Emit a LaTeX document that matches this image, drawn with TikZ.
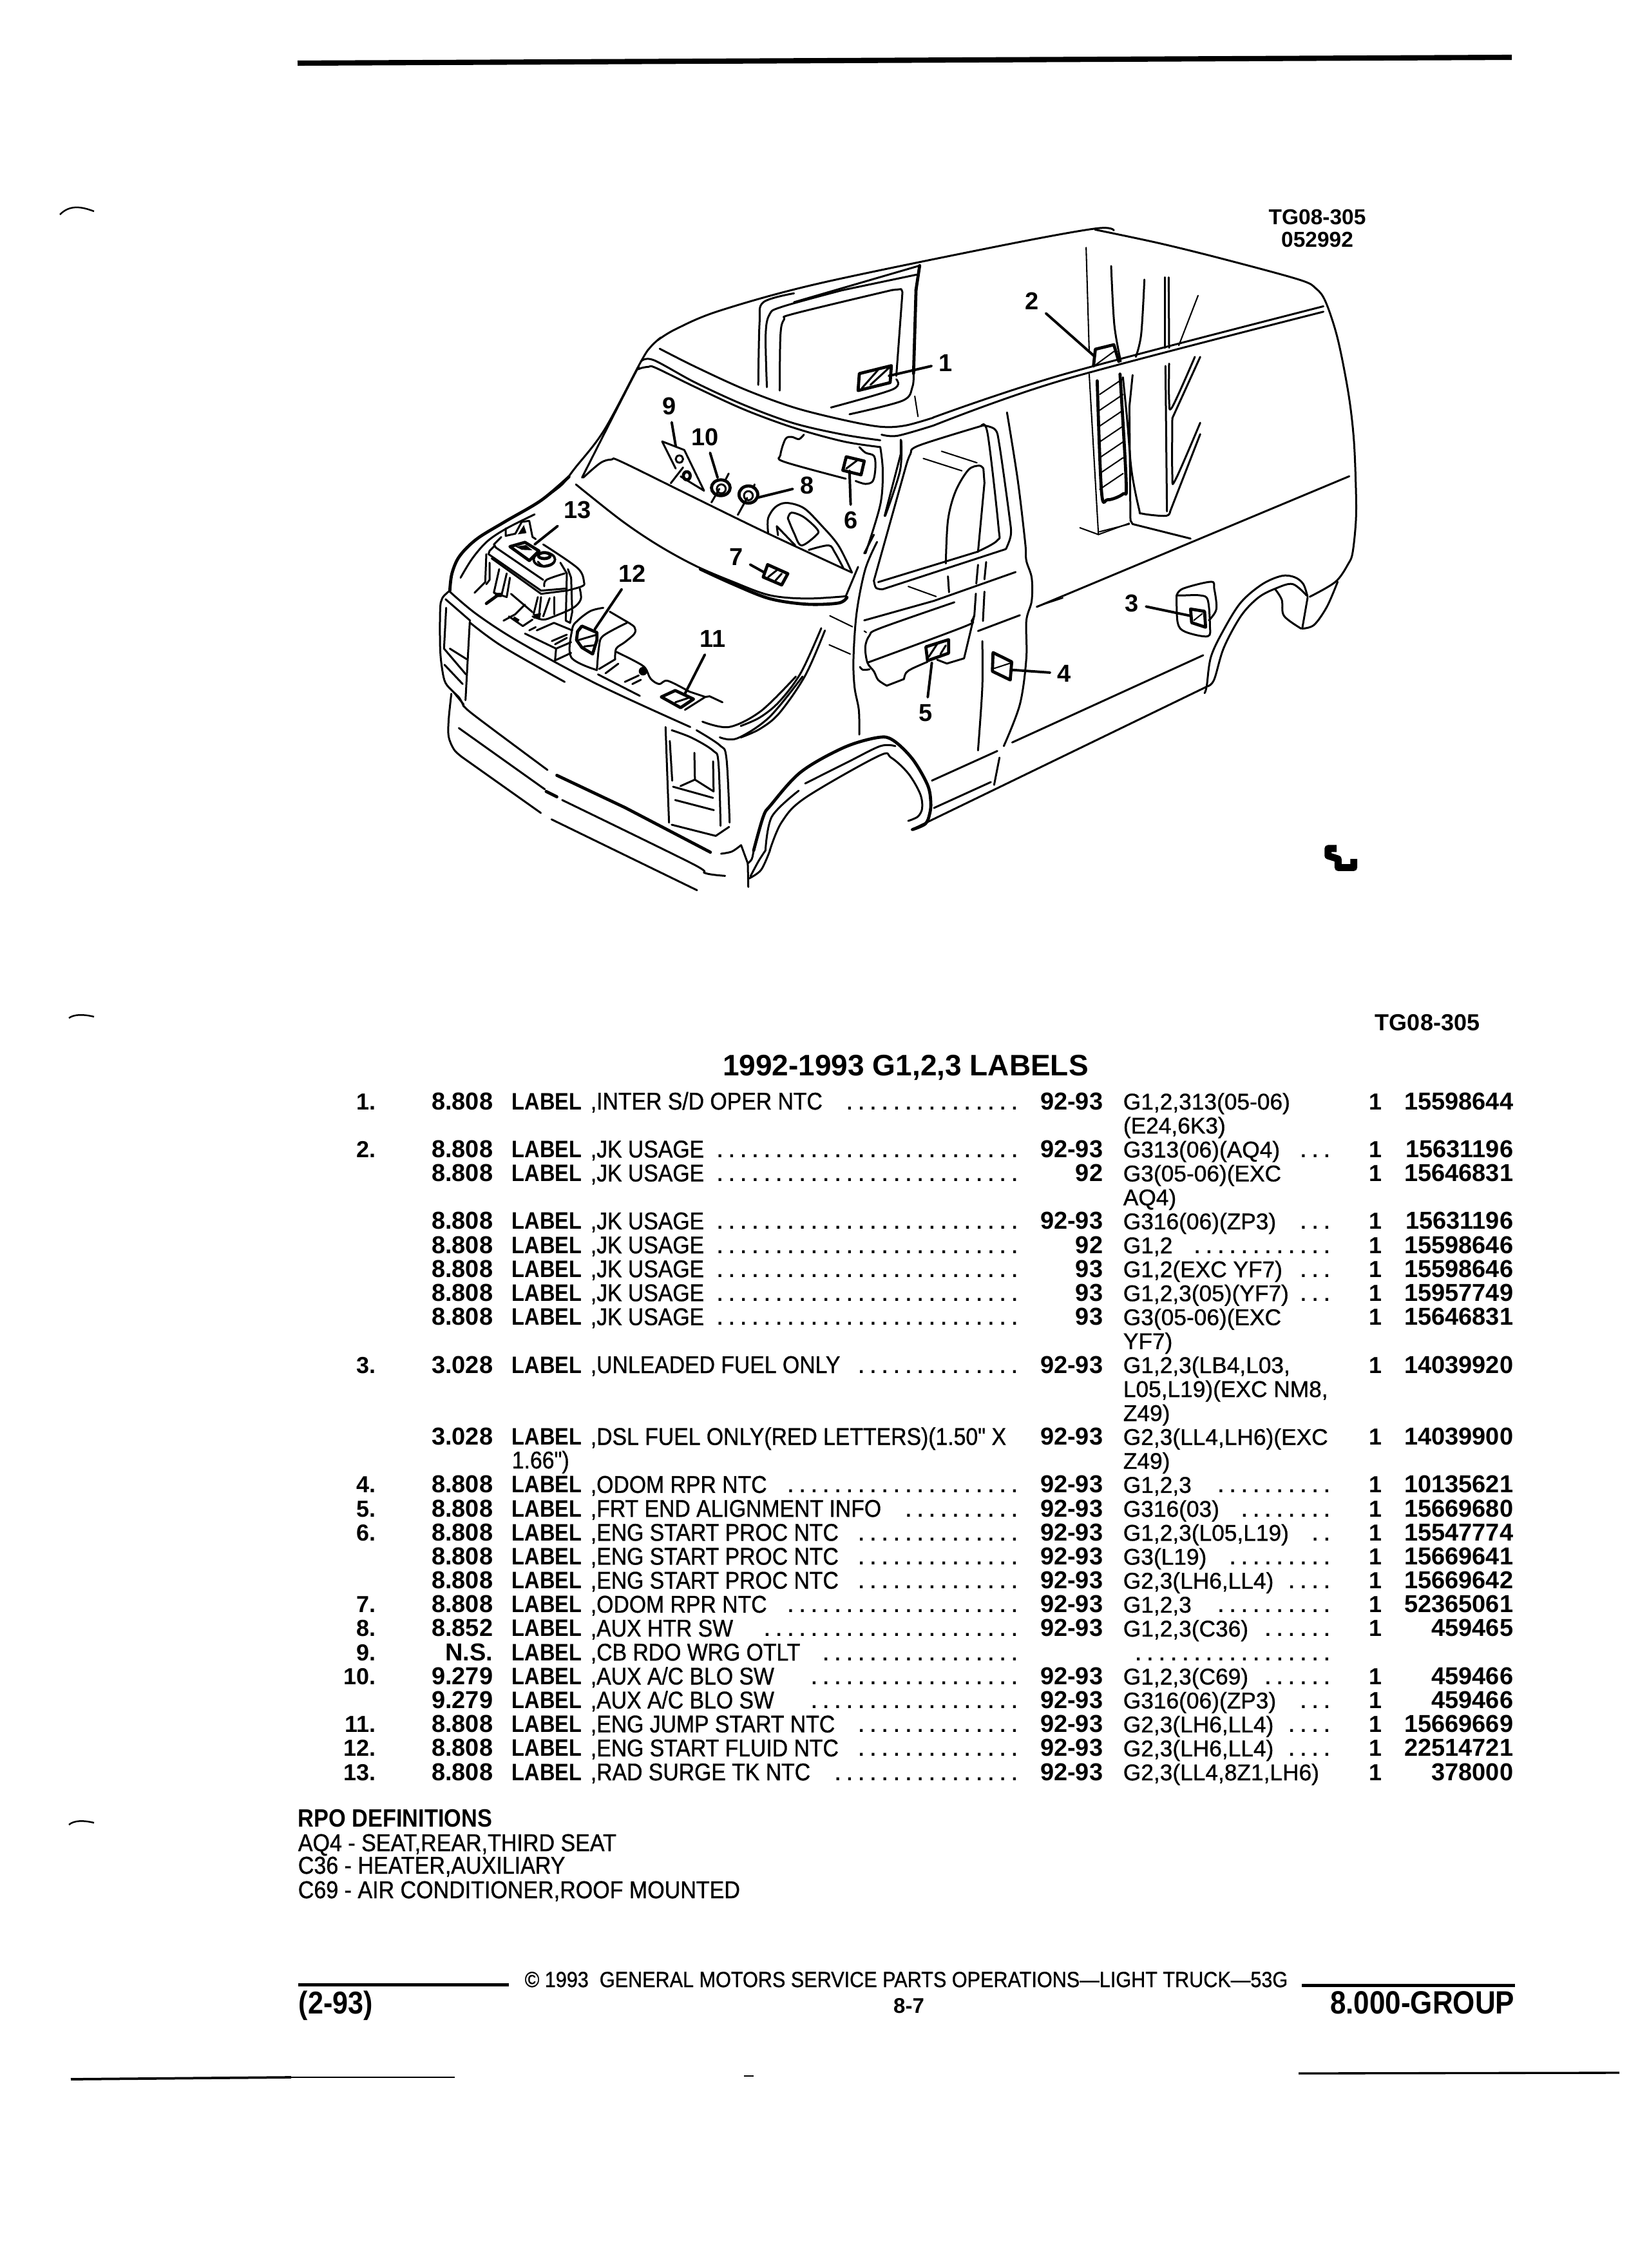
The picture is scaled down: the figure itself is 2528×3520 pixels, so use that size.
\documentclass[tikz,border=0pt]{standalone}
\usepackage{fontspec}
\setmainfont{Liberation Sans}
\newfontfamily\regf{Liberation Sans}[FakeBold=0.9]
\newfontfamily\regn{Liberation Sans}[FakeBold=0.9,FakeStretch=0.9]
\newfontfamily\labf{Liberation Sans}[BoldFeatures={FakeStretch=0.88}]
\newcommand\px[1]{\pgfmathsetmacro\fsz{#1*0.24}\fontsize{\fsz}{\fsz}\selectfont}
\newcommand\rgt[1]{\regf\px{#1}}
\newcommand\rgn[1]{\regn\px{#1}}
\newcommand\bld[1]{\bfseries\px{#1}}
\newcommand\bln[1]{\labf\bfseries\px{#1}}
\newcommand\dotrun[1]{\hbox{\cleaders\hbox to 4.39pt{\hss.\hss}\hskip\dimexpr4.39pt*#1\relax}}
\newcount\rowi
\rowi=0
\newcommand\nonempty[2]{\if\relax\detokenize{#1}\relax\else #2\fi}
\newcommand\trow[9]{%
 \pgfmathsetmacro\ry{1722+37.18*\the\rowi}%
 \nonempty{#1}{\node[itemno] (a\the\rowi) at (584,\ry) {#1};}%
 \nonempty{#2}{\node[codeno] (b\the\rowi) at (766,\ry) {#2};}%
 \nonempty{#2}{\node[lab] (c\the\rowi) at (794,\ry) {LABEL};}%
 \nonempty{#3}{\node[desc] (d\the\rowi) at (916,\ry) {#3};}%
 \nonempty{#4}{\node[dotsr] (e\the\rowi) at (1585,\ry) {\dotrun{#4}};}%
 \nonempty{#5}{\node[codeno] (f\the\rowi) at (1713,\ry) {#5};}%
 \nonempty{#6}{\node[gcol] (g\the\rowi) at (1743,\ry) {#6};}%
 \nonempty{#7}{\node[dotsr] (h\the\rowi) at (2070,\ry) {\dotrun{#7}};}%
 \nonempty{#8}{\node[qty] (i\the\rowi) at (2135,\ry) {#8};}%
 \nonempty{#9}{\node[codeno] (j\the\rowi) at (2350,\ry) {#9};}%
 \global\advance\rowi by 1\relax}
\newcommand\sm[2][vl]{\draw[#1] plot[smooth,tension=0.55] coordinates {#2};}
\tikzset{
 vl/.style={line width=0.72pt,line cap=round,line join=round},
 vt/.style={line width=0.5pt,line cap=round,line join=round},
 vb/.style={line width=1.15pt,line cap=round,line join=round},
 leader/.style={line width=0.95pt,line cap=round},
 num/.style={font=\bld{38},inner sep=2.5pt},
 itemno/.style={anchor=base east,inner sep=0pt,font=\bld{36}},
 codeno/.style={anchor=base east,inner sep=0pt,font=\bld{38}},
 lab/.style={anchor=base west,inner sep=0pt,font=\bln{37}},
 desc/.style={anchor=base west,inner sep=0pt,font=\rgn{37.5}},
 gcol/.style={anchor=base west,inner sep=0pt,font=\rgt{35.3}},
 dotsr/.style={anchor=base east,inner sep=0pt,font=\bld{30}},
 qty/.style={anchor=base,inner sep=0pt,font=\bld{36}},
 plainrow/.style={anchor=base west,inner sep=0pt,font=\rgn{37.8}},
 pagerule/.style={line width=1.9pt},
 scan/.style={line width=0.6pt},
 zone1/.style={shift={(600,300)},x=0.22967pt,y=-0.16836pt},
 zone4/.style={shift={(640,740)},x=0.08pt,y=-0.08pt},
 zone5/.style={shift={(1700,300)},x=0.08pt,y=-0.16925pt},
 zoneA/.style={shift={(680,1050)},x=0.0995pt,y=-0.08pt},
 zoneB/.style={shift={(1150,620)},x=0.08pt,y=-0.10714pt},
 zoneC/.style={shift={(850,450)},x=0.09185pt,y=-0.08421pt}
}
\begin{document}
\begin{tikzpicture}[x=0.24pt,y=-0.24pt]
\useasboundingbox (0,0) rectangle (2528,3520);
\fill[white] (0,0) rectangle (2528,3520);
% page rules and scan marks
\draw[pagerule,line width=1.95pt] (462,98) -- (2347,89);
\draw[scan] (93,333) .. controls (108,318) and (125,320) .. (146,328);
\draw[scan] (107,1580) .. controls (115,1574) and (130,1574) .. (146,1578);
\draw[scan] (107,2832) .. controls (115,2825) and (130,2825) .. (146,2829);
\draw[line width=0.9pt] (110,3227) -- (452,3224);
\draw[line width=0.35pt] (452,3224) -- (706,3224);
\draw[line width=0.5pt] (1155,3222) -- (1170,3222);
\draw[line width=0.8pt] (2016,3218) -- (2514,3217);
% ---------- zone C: windshield and dash
\begin{scope}[zoneC]
 \sm{(460,210)(420,250)(380,315)(230,620)(110,790)(60,860)(0,910)}
 \sm{(140,830)(350,380)(370,350)(410,340)(440,345)(600,430)(800,530)(1000,610)(1200,670)(1350,695)}
 \sm{(1350,695)(1360,800)(1350,950)(1290,1165)}
 \sm{(380,315)(430,310)(600,410)(800,510)(1000,590)(1200,640)(1350,665)}
 \sm{(455,260)(600,340)(800,440)(1000,520)(1200,575)(1350,605)(1450,600)(1565,565)}
 \sm{(1355,640)(1420,645)(1565,600)}
 % visor
 \sm{(1040,640)(1020,660)(990,650)(965,660)(945,730)(960,760)(1210,835)}
 \sm{(1265,695)(1290,720)(1325,735)(1330,790)(1320,845)(1290,858)(1250,845)}
 % dash
 \sm{(145,830)(215,765)(260,750)(300,760)(580,910)(890,1075)(1235,1250)}
 \sm{(115,860)(300,1020)(450,1130)(600,1220)(750,1290)(900,1350)(1050,1365)(1210,1355)}
 \draw[vl] (1210,1355) -- (1260,1225);
 \sm[vb]{(620,1235)(750,1300)(900,1365)(1050,1390)(1180,1385)(1215,1360)}
 \sm{(1435,665)(1430,800)(1370,1000)}
 % rear side window
 \sm{(855,420)(860,150)(875,55)(1000,15)}
 \sm{(890,430)(885,200)(900,110)(950,75)(1200,0)}
 \sm{(942,445)(945,200)(960,130)(1000,105)(1400,0)}
 \draw[vl] (1440,10) -- (1415,380);
 \draw[vb] (1495,0) -- (1485,370);
 \sm{(1485,375)(1480,430)(1440,490)(1225,550)}
 \sm{(1415,395)(1400,440)(1150,520)}
 \draw[vt] (1490,470) -- (1503,560);
 % steering wheel
 \sm{(895,1075)(895,1010)(925,960)(970,942)(1040,965)(1110,1040)(1180,1130)(1235,1250)}
 \draw[vl] (935,1085) -- (930,1045) -- (1005,1130);
 \sm{(975,1010)(990,985)(1040,1005)(1095,1060)(1090,1085)(1030,1130)(1000,1075)(975,1010)}
 \sm{(1060,1150)(1140,1130)(1165,1160)(1200,1230)}
 % sticker 1
 \draw[vb] (1265,370) -- (1395,335) -- (1390,410) -- (1260,445) -- cycle;
 \draw[vl] (1275,435) -- (1340,355);
 \draw[vl] (1310,420) -- (1385,345);
 \coordinate (s1) at (1385,380);
 % outlet 9
 \draw[vl] (520,790) -- (465,670) -- (555,708) -- (635,888) -- (540,825);
 \draw[vl] (535,748) ellipse [x radius=15,y radius=16];
 \draw[vb] (565,822) ellipse [x radius=14,y radius=18];
 \draw[vl] (550,785) -- (500,855);
 \coordinate (s9) at (520,690);
 \node[num] (n9) at (493,515) {9};
 \draw[leader] (n9) -- (s9);
 % switch 10
 \draw[vb] (703,875) ellipse [x radius=38,y radius=35];
 \draw[vl] (705,880) ellipse [x radius=18,y radius=20];
 \draw[vl] (697,880) -- (665,940);
 \draw[vl] (735,812) -- (722,840);
 \coordinate (s10) at (690,830);
 \node[num] (n10) at (640,650) {10};
 \draw[leader] (n10) -- (s10);
 % switch 8
 \draw[vb] (815,905) ellipse [x radius=38,y radius=38];
 \draw[vl] (815,910) ellipse [x radius=18,y radius=20];
 \draw[vl] (810,920) -- (772,995);
 \draw[vl] (840,860) -- (835,878);
 \coordinate (s8) at (855,918);
 \node[num] (n8) at (1052,865) {8};
 \draw[leader] (n8) -- (s8);
 % sticker 6
 \draw[vb] (1212,738) -- (1285,757) -- (1272,818) -- (1198,798) -- cycle;
 \draw[vl] (1212,790) -- (1255,755);
 \coordinate (s6) at (1225,800);
 \node[num] (n6) at (1232,1020) {6};
 \draw[leader] (n6) -- (s6);
 % sticker 7
 \draw[vb] (893,1215) -- (975,1255) -- (950,1305) -- (875,1270) -- cycle;
 \draw[vl] (895,1270) -- (930,1240);
 \draw[vl] (925,1285) -- (950,1255);
 \coordinate (s7) at (880,1250);
 \node[num] (n7) at (765,1180) {7};
 \draw[leader] (n7) -- (s7);
\end{scope}
% ---------- zone B: door
\begin{scope}[zoneB]
 \sm{(635,495)(580,590)(540,740)(525,900)(530,1000)(550,1080)(552,1165)}
 \draw[vl] (670,405) -- (745,190) -- (745,140);
 \sm{(1240,45)(1290,280)(1325,500)(1330,560)(1355,620)(1355,700)(1330,770)(1330,900)(1300,1060)(1225,1205)}
 \draw[vl] (1205,1245) -- (1180,1340);
 \draw[vl] (575,535) -- (620,470);
 \sm{(1130,90)(1185,105)(1205,160)(1250,400)(1258,470)(1235,520)}
 \draw[vl] (1235,520) -- (660,660);
 \sm{(660,660)(630,655)(620,630)}
 \draw[vl] (620,630) -- (770,230);
 \sm{(770,230)(790,190)(830,160)(1130,90)}
 \sm{(1120,92)(1150,120)(1200,440)(1195,490)(1100,530)}
 \draw[vl] (1100,530) -- (640,635);
 % seat
 \sm{(1130,240)(1110,230)(1060,245)(1000,320)(965,420)(955,570)}
 \draw[vl] (1130,240) -- (1135,290) -- (1105,530);
 \draw[vt] (935,180) -- (1100,220);
 \draw[vt] (850,205) -- (1030,248);
 \draw[vl] (965,615) -- (970,670);
 \draw[vl] (1105,575) -- (1097,640);
 \draw[vl] (1143,565) -- (1135,625);
 \draw[vt] (780,650) -- (910,685);
 \draw[vl] (1095,675) -- (1088,750) -- (1040,900) -- (960,918) -- (915,905);
 \draw[vl] (1135,668) -- (1128,770);
 % belt and arm rest
 \draw[vl] (575,768) -- (900,700) -- (1280,600);
 \sm{(995,705)(650,795)(600,820)(580,860)(590,915)(620,945)(640,975)(680,995)}
 \draw[vl] (680,995) -- (760,972);
 \sm{(760,972)(770,950)(800,935)(870,912)}
 \sm{(590,915)(1040,790)(1075,770)(1088,750)}
 \sm{(555,930)(570,940)(600,938)}
 \draw[vt] (575,805) -- (585,810);
 \draw[vt] (415,752) -- (520,790);
 \draw[vt] (412,853) -- (510,885);
 \draw[vl] (1105,805) -- (1300,750);
 \draw[vt] (1378,720) -- (1500,690);
 \sm{(1125,840)(1125,1000)(1105,1220)}
 % upper fender
 \sm{(375,795)(280,950)(180,1050)(90,1105)(0,1135)}
 \sm{(392,803)(300,960)(180,1090)(90,1145)(0,1175)}
 % arch
 \sm[vb]{(60,1568)(105,1450)(140,1410)(280,1295)(480,1210)(640,1175)(710,1185)(800,1250)(870,1340)(885,1400)(880,1440)(860,1475)(800,1495)}
 \sm{(115,1568)(145,1450)(270,1360)}
 \sm{(300,1335)(500,1260)(650,1205)(720,1205)}
 \sm{(135,1568)(190,1470)(300,1385)(640,1240)(700,1245)(780,1300)(835,1370)(845,1420)(825,1450)(780,1465)}
 \draw[vl] (890,1325) -- (1195,1222);
 \draw[vl] (900,1420) -- (1165,1330);
 % sticker 5
 \draw[vb] (862,860) -- (968,835) -- (968,882) -- (870,908) -- cycle;
 \draw[vl] (875,895) -- (915,850);
 \draw[vl] (930,885) -- (955,855);
 \coordinate (s5) at (890,915);
 \node[num] (n5) at (862,1090) {5};
 \draw[leader] (n5) -- (s5);
 % sticker 4
 \draw[vb] (1175,880) -- (1262,912) -- (1255,975) -- (1172,945) -- cycle;
 \draw[vt] (1180,935) -- (1262,915);
 \coordinate (s4) at (1262,940);
 \node[num] (n4) at (1506,953) {4};
 \draw[leader] (n4) -- (s4);
\end{scope}
% ---------- zone A: bumper and lamp
\begin{scope}[zoneA]
 \sm{(50,80)(40,200)(40,280)(60,340)(90,375)}
 \draw[vl] (90,375) -- (385,635);
 \draw[vl] (425,665) -- (970,995);
 \draw[vl] (78,240) -- (400,525);
 \draw[vb] (405,535) -- (445,560);
 \sm{(465,575)(950,870)(1000,915)(1075,928)}
 \sm{(96,130)(130,175)(410,435)}
 \draw[vb] (445,460) -- (700,610) -- (1020,818);
 \draw[vl] (60,75) -- (96,130);
 % lamp
 \draw[vl] (852,235) -- (865,680);
 \draw[vl] (868,300) -- (877,485);
 \sm{(875,250)(950,285)(1030,345)(1050,400)(1058,695)}
 \sm{(968,250)(1055,320)(1080,380)(1092,680)}
 \draw[vl] (960,355) -- (962,480) -- (908,510);
 \draw[vl] (962,480) -- (1032,535) -- (1030,395);
 \draw[vl] (880,513) -- (1030,565);
 \draw[vl] (888,575) -- (1033,622);
 \draw[vl] (875,690) -- (1040,742) -- (1090,700);
 % fender and hood corner
 \sm{(990,210)(1090,235)(1210,160)(1340,0)}
 \sm{(1055,283)(1120,288)(1240,190)(1365,0)}
 \sm{(1060,825)(1100,815)(1135,785)}
 \draw[vl] (1135,785) -- (1160,870) -- (1162,980);
 \sm{(1182,810)(1175,850)(1160,870)}
 \sm{(1226,810)(1200,860)(1170,930)}
 \sm{(1243,810)(1210,900)(1165,940)}
\end{scope}
% ---------- van, region 1
\begin{scope}[zone1]
 \sm{(440,325)(470,300)(540,260)(700,200)(1000,115)(1150,78)(1180,82)}
 \sm{(887,496)(1100,400)(1520,250)}
 \sm{(887,514)(1100,412)(1520,262)}
 \draw[vl] (852,1408) -- (1330,1092);
 \draw[vl] (1015,1215) -- (1325,1022);
 \draw[vl] (1055,915) -- (1562,626);
 % top of the rear side window
 \draw[vl] (661,241) -- (865,160);
 \draw[vl] (741,214) -- (860,180);
 \draw[vl] (821,214) -- (835,212) -- (837,218);
 \draw[vb] (859,214) -- (865,160);
 % pillar
 \draw[vt] (1135,120) -- (1140,350);
 \draw[vt] (1140,400) -- (1155,755);
 \draw[vt] (1125,740) -- (1155,755) -- (1205,730);
 \node[num] (n1) at (907,375) {1};
 \draw[leader] (n1) -- (s1);
 % sticker 2
 \draw[vb] (1147,382) -- (1150,345) -- (1180,335) -- (1188,372);
 \sm[vb]{(1153,415)(1160,660)(1170,678)(1195,665)(1200,640)(1190,400)}
 \foreach \v in {440,475,510,545,580,615,650}{\draw[vt] (1157,\v+5) -- (1195,\v-30);}
 \draw[vt] (1150,380) -- (1180,350);
 \coordinate (s2) at (1148,360);
 \node[num] (n2) at (1047,238) {2};
 \draw[leader] (n2) -- (s2);
\end{scope}
% ---------- engine bay
\begin{scope}[zone4]
 \sm[vb]{(730,0)(600,110)(430,210)(300,290)(220,370)(185,450)(175,530)}
 \sm{(175,530)(140,565)(130,620)(130,800)(140,900)(155,960)(190,1000)(220,1030)(240,1070)}
 \sm{(175,535)(300,640)(500,770)(860,965)(1295,1165)}
 \sm{(270,680)(420,790)(710,955)}
 \draw[vl] (158,610) -- (148,800) -- (250,920);
 \draw[vl] (175,800) -- (255,850);
 \draw[vl] (150,875) -- (235,965);
 \draw[vl] (268,675) -- (248,1040);
 \draw[vl] (155,570) -- (270,670);
 \sm{(225,470)(280,380)(350,300)(440,240)(570,175)}
 % reservoir
 \draw[vl] (415,280) -- (380,315) -- (390,330) -- (610,480);
 \draw[vl] (385,320) -- (360,345) -- (355,360);
 \draw[vl] (355,360) -- (600,530) -- (720,520);
 \draw[vl] (370,380) -- (600,545) -- (720,530);
 \sm{(610,315)(770,425)(800,490)(790,510)(720,530)}
 \sm{(615,510)(625,480)(710,450)}
 \draw[vl] (690,400) -- (720,450) -- (715,670) -- (735,680) -- (745,630) -- (740,470) -- (725,430);
 \sm{(780,520)(785,570)(750,610)(660,650)(610,665)(560,650)}
 \draw[vl] (345,360) -- (340,490) -- (290,540);
 \draw[vl] (360,400) -- (360,480) -- (345,500);
 \draw[vl] (405,430) -- (380,540) -- (440,560) -- (455,470);
 \draw[vl] (440,450) -- (415,555);
 \draw[vb] (345,590) -- (400,550);
 \draw[vl] (460,545) -- (560,630);
 \draw[vl] (585,560) -- (565,640);
 \draw[vl] (600,560) -- (590,650);
 \draw[vl] (640,565) -- (610,650);
 \draw[vl] (660,560) -- (660,640);
 \draw[vl] (425,670) -- (480,640) -- (525,595);
 \draw[vl] (450,650) -- (515,695) -- (560,665);
 \fill (565,640) -- (600,635) -- (595,660) -- (565,660) -- cycle;
 \fill (385,540) -- (420,540) -- (415,560) -- (385,560) -- cycle;
 \fill (475,650) -- (500,665) -- (490,680) -- (465,665) -- cycle;
 \draw[vl] (435,240) -- (435,275) -- (480,265) -- (510,210) -- (545,205) -- (560,280) -- (575,290);
 \fill (492,268) -- (520,225) -- (532,262) -- cycle;
 % sticker 13
 \draw[vb] (455,325) -- (525,305) -- (590,345) -- (545,390) -- cycle;
 \fill (480,325) -- (530,318) -- (560,342) -- (510,340) -- cycle;
 \fill[white,draw=black,line width=0.9pt] (615,385) ellipse [x radius=50,y radius=32];
 \draw[vb] (615,367) ellipse [x radius=28,y radius=14];
 \sm{(585,395)(610,415)(650,405)(665,390)}
 \coordinate (s13) at (570,315);
 \node[num] (n13) at (770,155) {13};
 \draw[leader] (n13) -- (s13);
 % sticker 12 and housing
 \sm{(890,610)(830,625)(770,670)(745,710)(740,840)(860,900)}
 \draw[vl] (920,628) -- (1000,675);
 \sm{(1000,675)(1035,700)(1035,730)(990,770)(950,800)(945,850)}
 \sm{(860,900)(870,790)(890,740)(1000,680)}
 \draw[vl] (870,895) -- (945,850);
 \draw[vb] (790,695) -- (860,725) -- (860,760) -- (840,825) -- (790,795) -- (765,760) -- (770,720) -- cycle;
 \draw[vl] (775,760) -- (860,735);
 \draw[vl] (800,790) -- (845,785);
 \coordinate (s12) at (850,710);
 \node[num] (n12) at (1025,450) {12};
 \draw[leader] (n12) -- (s12);
 % cowl details
 \draw[vl] (525,730) -- (670,800) -- (665,855) -- (740,820);
 \draw[vl] (670,800) -- (740,770);
 \draw[vl] (545,715) -- (575,700);
 \draw[vl] (580,715) -- (660,680) -- (745,715);
 \draw[vl] (650,765) -- (720,735);
 \draw[vl] (665,780) -- (720,750);
 \sm{(950,815)(1040,860)(1085,890)(1110,940)(1150,965)(1190,950)(1290,1000)}
 \fill (1075,905) circle [radius=20];
 \draw[vl] (900,915) -- (960,870);
 \draw[vl] (990,955) -- (1055,925);
 \draw[vl] (1025,965) -- (1065,945);
 \draw[vl] (865,920) -- (1060,1020);
 \draw[vl] (1290,1000) -- (1365,1025) -- (1270,1085);
 \draw[vl] (1365,1025) -- (1385,1022) -- (1445,1050);
 % sticker 11
 \draw[vb] (1160,1025) -- (1225,995) -- (1310,1035) -- (1250,1075) -- cycle;
 \draw[vl] (1225,1050) -- (1285,1030);
 \coordinate (s11) at (1270,1010);
 \node[num] (n11) at (1400,755) {11};
 \draw[leader] (n11) -- (s11);
\end{scope}
% ---------- rear region
\begin{scope}[zone5]
 \sm{(0,80)(300,110)(600,145)(950,190)(1030,210)(1075,240)(1130,320)(1180,440)(1205,540)(1215,650)(1215,720)(1200,790)(1180,815)(1120,855)(1000,888)}
 \sm{(990,888)(970,860)(930,845)(870,842)(780,860)(680,900)(600,960)(540,1020)(520,1085)(510,1100)}
 \sm{(525,1085)(555,1070)(600,1000)(680,930)(760,890)(840,870)(920,860)(985,885)}
 \sm{(840,872)(870,895)(880,930)(960,958)}
 \draw[vl] (990,890) -- (965,958);
 \sm{(965,958)(1020,950)(1080,910)(1130,855)}
 % rear pillars
 \sm{(75,160)(90,290)(120,370)}
 \sm{(130,405)(150,500)(170,610)(205,695)(220,705)(330,710)(350,700)}
 \draw[vl] (350,700) -- (490,530);
 \sm{(230,190)(215,310)(190,360)}
 \draw[vl] (175,400) -- (160,470) -- (165,720) -- (175,728) -- (445,760);
 \draw[vl] (325,185) -- (325,340);
 \draw[vl] (343,185) -- (345,340);
 \draw[vl] (328,380) -- (335,700);
 \sm{(345,375)(345,455)(360,470)(465,360)}
 \draw[vl] (360,495) -- (490,360);
 \sm{(360,495)(360,620)(375,630)(490,505)}
 \draw[vt] (480,225) -- (390,335);
 \draw[vt] (20,745) -- (160,728);
 % fuel door, sticker 3
 \sm{(380,885)(410,870)(540,855)(555,870)(565,915)(530,940)}
 \sm{(380,885)(385,945)(420,965)(525,975)(535,950)(525,895)(490,885)(410,885)(380,885)}
 \draw[vb] (445,915) -- (510,920) -- (515,955) -- (450,945) -- cycle;
 \draw[vt] (460,940) -- (500,925);
 \coordinate (s3) at (445,930);
 \node[num] (n3) at (172,903) {3};
 \draw[leader] (n3) -- (s3);
 % mark
 \draw[line width=2.6pt,line join=round] (1125,1442) -- (1085,1442) -- (1085,1458) -- (1132,1465) -- (1132,1484) -- (1205,1484) -- (1205,1465);
\end{scope}
% ---------- texts
\node[font=\bld{33.5},inner sep=0pt] (tga) at (2045,337) {TG08-305};
\node[font=\bld{33.5},inner sep=0pt] (tgb) at (2045,372) {052992};
\node[font=\bld{36},inner sep=0pt] (tgc) at (2216,1587) {TG08-305};
\node[font=\bld{46},inner sep=0pt] (title) at (1406,1657) {1992-1993 G1,2,3 LABELS};
\trow{1.}{8.808}{,INTER S/D OPER NTC}{15}{92-93}{G1,2,313(05-06)}{}{1}{15598644}
\trow{}{}{}{}{}{(E24,6K3)}{}{}{}
\trow{2.}{8.808}{,JK USAGE}{26}{92-93}{G313(06)(AQ4)}{3}{1}{15631196}
\trow{}{8.808}{,JK USAGE}{26}{92}{G3(05-06)(EXC}{}{1}{15646831}
\trow{}{}{}{}{}{AQ4)}{}{}{}
\trow{}{8.808}{,JK USAGE}{26}{92-93}{G316(06)(ZP3)}{3}{1}{15631196}
\trow{}{8.808}{,JK USAGE}{26}{92}{G1,2}{12}{1}{15598646}
\trow{}{8.808}{,JK USAGE}{26}{93}{G1,2(EXC YF7)}{3}{1}{15598646}
\trow{}{8.808}{,JK USAGE}{26}{93}{G1,2,3(05)(YF7)}{3}{1}{15957749}
\trow{}{8.808}{,JK USAGE}{26}{93}{G3(05-06)(EXC}{}{1}{15646831}
\trow{}{}{}{}{}{YF7)}{}{}{}
\trow{3.}{3.028}{,UNLEADED FUEL ONLY}{14}{92-93}{G1,2,3(LB4,L03,}{}{1}{14039920}
\trow{}{}{}{}{}{L05,L19)(EXC NM8,}{}{}{}
\trow{}{}{}{}{}{Z49)}{}{}{}
\trow{}{3.028}{,DSL FUEL ONLY(RED LETTERS)(1.50" X}{}{92-93}{G2,3(LL4,LH6)(EXC}{}{1}{14039900}
\node[desc] (d15) at (794,2279) {1.66")};
\trow{}{}{}{}{}{Z49)}{}{}{}
\trow{4.}{8.808}{,ODOM RPR NTC}{20}{92-93}{G1,2,3}{10}{1}{10135621}
\trow{5.}{8.808}{,FRT END ALIGNMENT INFO}{10}{92-93}{G316(03)}{8}{1}{15669680}
\trow{6.}{8.808}{,ENG START PROC NTC}{14}{92-93}{G1,2,3(L05,L19)}{2}{1}{15547774}
\trow{}{8.808}{,ENG START PROC NTC}{14}{92-93}{G3(L19)}{9}{1}{15669641}
\trow{}{8.808}{,ENG START PROC NTC}{14}{92-93}{G2,3(LH6,LL4)}{4}{1}{15669642}
\trow{7.}{8.808}{,ODOM RPR NTC}{20}{92-93}{G1,2,3}{10}{1}{52365061}
\trow{8.}{8.852}{,AUX HTR SW}{22}{92-93}{G1,2,3(C36)}{6}{1}{459465}
\trow{9.}{N.S.}{,CB RDO WRG OTLT}{17}{}{}{17}{}{}
\trow{10.}{9.279}{,AUX A/C BLO SW}{18}{92-93}{G1,2,3(C69)}{6}{1}{459466}
\trow{}{9.279}{,AUX A/C BLO SW}{18}{92-93}{G316(06)(ZP3)}{3}{1}{459466}
\trow{11.}{8.808}{,ENG JUMP START NTC}{14}{92-93}{G2,3(LH6,LL4)}{4}{1}{15669669}
\trow{12.}{8.808}{,ENG START FLUID NTC}{14}{92-93}{G2,3(LH6,LL4)}{4}{1}{22514721}
\trow{13.}{8.808}{,RAD SURGE TK NTC}{16}{92-93}{G2,3(LL4,8Z1,LH6)}{}{1}{378000}
\node[anchor=base west,inner sep=0pt,font=\bln{39}] (rpo) at (462,2835) {RPO DEFINITIONS};
\node[plainrow] (aq4) at (462,2873) {AQ4 - SEAT,REAR,THIRD SEAT};
\node[plainrow] (c36) at (462,2908) {C36 - HEATER,AUXILIARY};
\node[plainrow] (c69) at (462,2946) {C69 - AIR CONDITIONER,ROOF MOUNTED};
% footer
\draw[pagerule,line width=1.2pt] (463,3080) -- (790,3080);
\draw[pagerule,line width=1.2pt] (2021,3081) -- (2352,3081);
\node[font=\rgn{34},inner sep=0pt,anchor=base] (foot) at (1407,3084) {© 1993\ \ GENERAL MOTORS SERVICE PARTS OPERATIONS—LIGHT TRUCK—53G};
\node[font=\bln{49},inner sep=0pt,anchor=base west] (date) at (463,3125) {(2-93)};
\node[font=\bld{33},inner sep=0pt,anchor=base] (page) at (1411,3124) {8-7};
\node[font=\bln{50},inner sep=0pt,anchor=base east] (group) at (2352,3125) {8.000-GROUP};
\end{tikzpicture}
\end{document}
